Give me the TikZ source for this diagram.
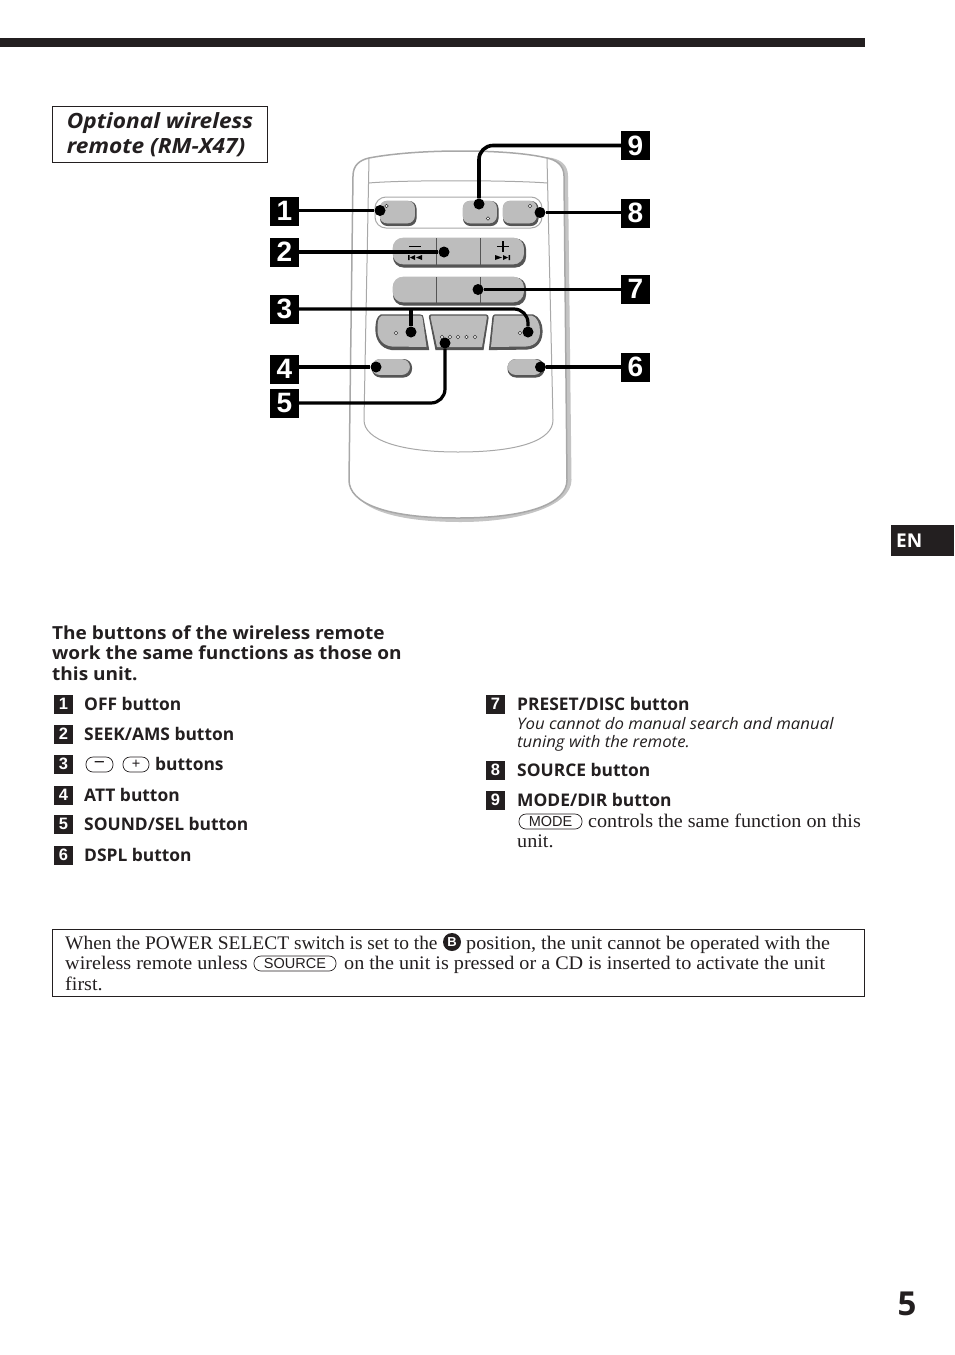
\documentclass[tikz,border=0pt]{standalone}
\usepackage{fontspec}
\setmainfont{Liberation Serif}
\setsansfont{Open Sans}
\newfontfamily\helv{Liberation Sans}
\newfontfamily\titlefam[FakeStretch=1.08]{Open Sans}
\newfontfamily\headfam[FakeStretch=1.057]{Open Sans}
\newfontfamily\italfam[FakeStretch=1.055]{Open Sans}
\newfontfamily\bodyfam[FakeStretch=1.05]{Liberation Serif}
\newfontfamily\bodyfamA[FakeStretch=1.012]{Liberation Serif}
\definecolor{btn}{HTML}{BDBDBD}
\definecolor{btndark}{HTML}{555555}
\definecolor{shell}{HTML}{A8A8A8}
\definecolor{shade}{HTML}{C4C4C4}
\definecolor{ink}{HTML}{231F20}
\tikzset{
 x=1pt,y=-1pt,
 bigkey/.style={fill=black,text=white,minimum size=29pt,inner sep=0pt,font=\helv\bfseries\fontsize{28}{28}\selectfont},
 smallkey/.style={fill=ink,text=white,minimum size=19pt,inner sep=0pt,font=\helv\bfseries\fontsize{16.5}{16.5}\selectfont},
 pin/.style={circle,fill=black,minimum size=11pt,inner sep=0pt},
 lead/.style={line width=3.6pt,black,rounded corners=14pt},
 btnface/.style={fill=btn,draw=btn,line width=.6pt},
 btnshadow/.style={fill=btndark,draw=btndark,line width=1pt},
 led/.style={circle,draw=black!80,fill=white,line width=.6pt,minimum size=3.4pt,inner sep=0pt},
 itembold/.style={anchor=base west,inner sep=0pt,text=ink,font=\sffamily\bfseries\fontsize{17.4}{18}\selectfont},
 headbold/.style={anchor=base west,inner sep=0pt,text=ink,font=\headfam\bfseries\fontsize{18}{18}\selectfont},
 itemital/.style={anchor=base west,inner sep=0pt,text=ink,font=\italfam\itshape\fontsize{15.9}{16}\selectfont},
 bodytxt/.style={anchor=base west,inner sep=0pt,text=ink,font=\bodyfam\fontsize{19.2}{19}\selectfont},
 pill/.style={draw=ink,line width=.7pt,rounded corners=7pt,fill=white,inner sep=0pt,text=ink,font=\helv\fontsize{14.5}{14}\selectfont},
}
\begin{document}
\begin{tikzpicture}
\useasboundingbox (0,0) rectangle (954,1355);
\fill[white] (0,0) rectangle (954,1355);
% top rule
\fill[ink] (0,38) rectangle (865,47);
% title
\node[draw=ink,line width=.9pt,minimum width=215pt,minimum height=56pt,inner sep=0pt,anchor=north west,align=left,font=\titlefam\bfseries\itshape\fontsize{21}{25}\selectfont,text=ink] (title) at (52,106) {Optional wireless\\remote (RM-X47)};
% remote shell
\path[fill=shade] (357,176) .. controls (357,165) and (364,160) .. (373,158) .. controls (399,154) and (434,154) .. (464,154) .. controls (498,154) and (530,155) .. (552,158) .. controls (561,160) and (568,165) .. (568,176) -- (571.5,480) .. controls (571.5,506) and (520,522) .. (461,522) .. controls (388,522) and (352,506) .. (352,482) -- cycle;
\draw[shell,line width=1.5pt,fill=white] (353,176) .. controls (353,165) and (360,160) .. (369,158) .. controls (395,153) and (430,151) .. (460,151) .. controls (494,151) and (526,153) .. (547,158) .. controls (556,160) and (564,165) .. (564,176) -- (567,480) .. controls (567,503) and (530,518) .. (458,518) .. controls (385,518) and (349,503) .. (349,480) -- cycle;
\draw[shell,line width=1pt] (369,158) -- (364,420) .. controls (364,440) and (400,452) .. (458,452) .. controls (520,452) and (553,440) .. (553,420) -- (547,158);
\draw[shell,line width=1pt] (369,183) .. controls (400,180) and (510,180) .. (547,183);
\draw[shell,line width=1pt,rounded corners=11pt] (375,197) rectangle (542,228);
% top buttons
\foreach \a/\b in {380/416,463/498,503/538}{
 \draw[btnshadow,rounded corners=7pt] (\a+.5,201.5) rectangle (\b,225.5);
 \draw[btnface,rounded corners=7pt] (\a,201) rectangle (\b-1.5,223);
}
\node[led] (ledA) at (386.5,206) {};
\node[led] (ledB) at (488,218.5) {};
\node[led] (ledC) at (530,206) {};
% rows
\foreach \t/\h in {238/267,277/305}{
 \draw[btnshadow,rounded corners=10pt] (393.5,\t+1) rectangle (525.5,\h);
 \draw[btnface,rounded corners=10pt] (393,\t) rectangle (523.5,\h-3);
 \draw[btndark,line width=.9pt] (436.5,\t) -- (436.5,\h-2) (480.5,\t) -- (480.5,\h-2);
}
% seek icons
\draw[black,line width=1.1pt] (409,246.5) -- (421,246.5);
\draw[black,line width=1.1pt] (497,246.5) -- (509,246.5) (503,241) -- (503,252);
\fill[black] (408,255) rectangle (409.5,260) (415,255) -- (415,260) -- (410,257.5) -- cycle (422,255) -- (422,260) -- (416,257.5) -- cycle;
\fill[black] (510,255) rectangle (508.5,260) (503,255) -- (503,260) -- (508,257.5) -- cycle (495,255) -- (495,260) -- (502,257.5) -- cycle;
% three lower buttons
\draw[btnshadow,line width=1.2pt] (381,315) -- (420,315) .. controls (422,315) and (423,316) .. (423,318) -- (428.5,349.5) -- (392,349.5) .. controls (380,348) and (376,338) .. (376,330) .. controls (376,322) and (377,317) .. (381,315) -- cycle;
\fill[btn] (382,315.5) -- (420,315.5) .. controls (421.5,315.5) and (422,316.5) .. (422.5,318) -- (426.5,347) -- (392,346.5) .. controls (382,345.5) and (377.5,338) .. (377.5,330) .. controls (377.5,322) and (378,317) .. (382,315.5) -- cycle;
\draw[btnshadow,line width=1.2pt] (431,315) -- (486,315) .. controls (487.5,315) and (488,316) .. (488,318) -- (483,349.5) -- (436,349.5) -- (429.5,317) .. controls (429.5,316) and (430,315) .. (431,315) -- cycle;
\fill[btn] (431.5,315.6) -- (485.5,315.6) .. controls (486.5,315.6) and (487,316) .. (486.8,318) -- (482,347) -- (437,347) -- (430.5,317) .. controls (430.5,316.2) and (431,315.6) .. (431.5,315.6) -- cycle;
\draw[btnshadow,line width=1.2pt] (495,315) -- (533,315) .. controls (539,317) and (542,324) .. (542,331) .. controls (542,340) and (538,348) .. (527,349) -- (489.5,349.5) -- (493,317) .. controls (493.5,316) and (494,315) .. (495,315) -- cycle;
\fill[btn] (495,315.6) -- (532,315.6) .. controls (537,317) and (540,324) .. (540,331) .. controls (540,339) and (536,346) .. (526,346.5) -- (491,347) -- (494,317) .. controls (494.2,316) and (494.5,315.6) .. (495,315.6) -- cycle;
\node[led] (ledD) at (396,333) {};
\node[led] (ledE) at (520,333) {};
\foreach \x in {442,450,458,466.5,475}{\node[led] at (\x,337) {};}
% bottom buttons
\draw[btnshadow,rounded corners=8pt] (372.5,359.5) rectangle (411.5,377);
\draw[btnface,rounded corners=7.5pt] (372,359.5) rectangle (409.5,374.5);
\draw[btnshadow,rounded corners=8pt] (508,359.5) rectangle (544,377);
\draw[btnface,rounded corners=7.5pt] (508,359.5) rectangle (542,374.5);
% callout labels
\node[bigkey] (k1) at (284.5,211) {1};
\node[bigkey] (k2) at (284.5,252) {2};
\node[bigkey] (k3) at (284.5,309) {3};
\node[bigkey] (k4) at (284.5,369) {4};
\node[bigkey] (k5) at (284.5,403) {5};
\node[bigkey] (k6) at (635.5,367) {6};
\node[bigkey] (k7) at (635.5,289) {7};
\node[bigkey] (k8) at (635.5,213) {8};
\node[bigkey] (k9) at (635.5,145.5) {9};
% pins
\node[pin] (p1) at (380,210.5) {};
\node[pin] (p2) at (444,252) {};
\node[pin] (p3a) at (411,332) {};
\node[pin] (p3b) at (528,332) {};
\node[pin] (p4) at (376,367) {};
\node[pin] (p5) at (445,343) {};
\node[pin] (p6) at (540.5,367) {};
\node[pin] (p7) at (478,289.5) {};
\node[pin] (p8) at (540,212.5) {};
\node[pin] (p9) at (479,204) {};
% leaders
\draw[lead] (k1.east |- p1) -- (p1);
\draw[lead] (k2.east |- p2) -- (p2);
\draw[lead] (k4.east |- p4) -- (p4);
\draw[lead] (k6.west |- p6) -- (p6);
\draw[lead] (k7.west |- p7) -- (p7);
\draw[lead] (k8.west |- p8) -- (p8);
\draw[lead] (p9) -- (p9 |- k9) -- (k9.west);
\draw[lead,line width=3.2pt] (k5.east) -- (p5 |- k5) -- (p5);
\draw[lead,line width=3.2pt] (k3.east) -- (p3b |- k3) -- (p3b);
\draw[lead,line width=3.2pt] (p3a) -- (p3a |- k3);
% heading
\node[headbold] (h1) at (52,639) {The buttons of the wireless remote};
\node[headbold] (h2) at (52,659) {work the same functions as those on};
\node[headbold] (h3) at (52,680) {this unit.};
% left list
\foreach \n/\yy/\tx in {1/704/OFF button,2/734/SEEK\slash AMS button,3/764/,4/795/ATT button,5/824/SOUND\slash SEL button,6/855/DSPL button}{
 \node[smallkey] (s\n) at (63.5,\yy) {\n};
 \node[itembold] (t\n) at (84,\yy+6) {\tx};
}
\node[pill,minimum width=27pt,minimum height=15pt] (pm) at (99.5,764.5) {\fontsize{19}{19}\selectfont\textminus};
\node[pill,minimum width=26pt,minimum height=15pt] (pp) at (136,764.5) {+};
\node[itembold] (tb) at (155,770) {buttons};
% right list
\node[smallkey] (s7) at (495.5,704) {7};
\node[itembold] (t7) at (517,710) {PRESET/DISC button};
\node[itemital] (t7a) at (517,729) {You cannot do manual search and manual};
\node[itemital] (t7b) at (517,747) {tuning with the remote.};
\node[smallkey] (s8) at (495.5,770) {8};
\node[itembold] (t8) at (517,776) {SOURCE button};
\node[smallkey] (s9) at (495.5,800) {9};
\node[itembold] (t9) at (517,806) {MODE/DIR button};
\node[pill,minimum width=63pt,minimum height=15pt] (pmode) at (550.5,821.5) {MODE};
\node[bodytxt] (t9a) at (588,827) {controls the same function on this};
\node[bodytxt] (t9b) at (517,847) {unit.};
% note
\draw[ink,line width=.9pt] (52.5,929) rectangle (864.5,996.5);
\node[bodytxt,font=\bodyfamA\fontsize{19.2}{19}\selectfont] (n1a) at (65,949) {When the POWER SELECT switch is set to the};
\node[circle,fill=ink,text=white,minimum size=18pt,inner sep=0pt,font=\helv\bfseries\fontsize{13}{13}\selectfont] (cb) at (452,942) {B};
\node[bodytxt] (n1b) at (466,949) {position, the unit cannot be operated with the};
\node[bodytxt] (n2a) at (65,969.5) {wireless remote unless};
\node[pill,minimum width=82pt,minimum height=15pt] (psrc) at (295,963.5) {SOURCE};
\node[bodytxt] (n2b) at (344,969.5) {on the unit is pressed or a CD is inserted to activate the unit};
\node[bodytxt] (n3) at (65,990) {first.};
% tab and page number
\node[fill=ink,text=white,minimum width=63pt,minimum height=31pt,inner sep=0pt,anchor=north west,font=\sffamily\bfseries\fontsize{19}{19}\selectfont] (en) at (891,525) {\hspace*{-27pt}EN};
\node[inner sep=0pt,text=ink,font=\sffamily\bfseries\fontsize{33}{33}\selectfont] (pg) at (907,1304) {5};
\end{tikzpicture}
\end{document}
